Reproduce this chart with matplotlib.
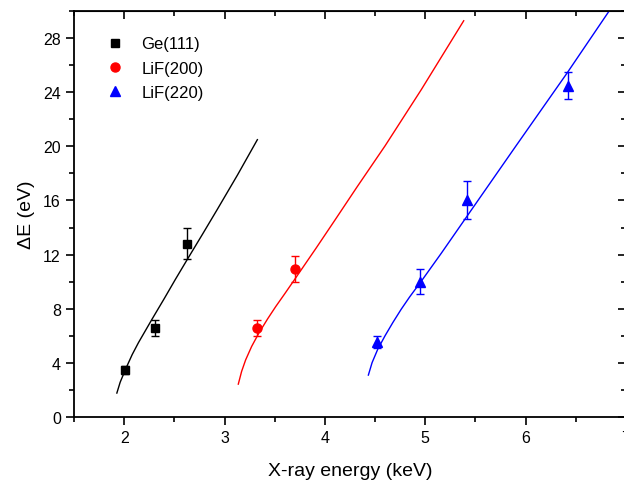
import numpy as np
import matplotlib
matplotlib.use("Agg")
import matplotlib.pyplot as plt
from matplotlib.ticker import MultipleLocator

plt.rcParams['font.family'] = ['Liberation Sans', 'DejaVu Sans']

# measured points
ge_x = [2.01, 2.31, 2.625]
ge_y = [3.45, 6.55, 12.8]
ge_err = [0.3, 0.6, 1.15]

lif200_x = [3.32, 3.70]
lif200_y = [6.55, 10.95]
lif200_err = [0.6, 0.97]

lif220_x = [4.52, 4.95, 5.42, 6.42]
lif220_y = [5.5, 10.0, 16.05, 24.5]
lif220_err = [0.45, 0.9, 1.4, 1.0]

# theory curves
ge_cx = [1.927, 1.96, 2.017, 2.08, 2.143, 2.277, 2.4, 2.51, 2.633, 2.78, 2.927, 3.13, 3.327]
ge_cy = [1.75, 2.55, 3.57, 4.6, 5.49, 7.21, 8.75, 10.16, 11.69, 13.5, 15.33, 17.9, 20.5]

lif200_cx = [3.137, 3.17, 3.21, 3.27, 3.343, 3.43, 3.51, 3.6, 3.693, 3.91, 4.1, 4.32, 4.6, 4.96, 5.383]
lif200_cy = [2.41, 3.35, 4.2, 5.2, 6.2, 7.25, 8.15, 9.1, 10.1, 12.45, 14.55, 17.0, 20.05, 24.2, 29.3]

lif220_cx = [4.433, 4.47, 4.527, 4.6, 4.677, 4.76, 4.843, 4.977, 5.16, 5.45, 5.9, 6.41, 6.83]
lif220_cy = [3.08, 4.0, 5.0, 6.0, 6.97, 7.95, 8.85, 10.2, 12.1, 15.2, 20.0, 25.4, 30.0]

fig = plt.figure(figsize=(6.24, 4.81), dpi=100)
ax = fig.add_axes([74 / 624, 63.3 / 481, 552 / 624, 405.4 / 481])

ax.plot(ge_cx, ge_cy, color='black', lw=1)
ax.plot(lif200_cx, lif200_cy, color='red', lw=1)
ax.plot(lif220_cx, lif220_cy, color='blue', lw=1)

ax.errorbar(ge_x, ge_y, yerr=ge_err, fmt='s', color='black', ms=6,
            capsize=3, elinewidth=1, capthick=1, label='Ge(111)')
ax.errorbar(lif200_x, lif200_y, yerr=lif200_err, fmt='o', color='red', ms=6.5,
            capsize=3, elinewidth=1, capthick=1, label='LiF(200)')
ax.errorbar(lif220_x, lif220_y, yerr=lif220_err, fmt='^', color='blue', ms=7,
            capsize=3, elinewidth=1, capthick=1, label='LiF(220)')

ax.set_xlim(1.5, 7)
ax.set_ylim(0, 30)
ax.xaxis.set_major_locator(MultipleLocator(1))
ax.xaxis.set_minor_locator(MultipleLocator(0.5))
ax.yaxis.set_major_locator(MultipleLocator(4))
ax.yaxis.set_minor_locator(MultipleLocator(2))
ax.tick_params(which='major', direction='out', length=6, width=1.2, labelsize=11.5)
ax.tick_params(which='minor', direction='out', length=3.5, width=1.2)
for s in ax.spines.values():
    s.set_linewidth(1.3)

# inward ticks on top and right
top = ax.secondary_xaxis('top')
top.xaxis.set_major_locator(MultipleLocator(1))
top.xaxis.set_minor_locator(MultipleLocator(0.5))
top.tick_params(which='major', direction='in', length=6, width=1.2, labeltop=False)
top.tick_params(which='minor', direction='in', length=3.5, width=1.2)
right = ax.secondary_yaxis('right')
right.yaxis.set_major_locator(MultipleLocator(4))
right.yaxis.set_minor_locator(MultipleLocator(2))
right.tick_params(which='major', direction='in', length=6, width=1.2, labelright=False)
right.tick_params(which='minor', direction='in', length=3.5, width=1.2)

ax.set_xlabel('X-ray energy (keV)', fontsize=14, labelpad=12)
ax.set_ylabel('\u0394E (eV)', fontsize=14, labelpad=6)

h, l = ax.get_legend_handles_labels()
h = [x[0] for x in h]
ax.legend(h, l, loc='upper left', bbox_to_anchor=(0.025, 0.975), frameon=False,
          fontsize=12, handletextpad=0.8, labelspacing=0.55, handlelength=1.5)

fig.savefig('out.png', dpi=100)
